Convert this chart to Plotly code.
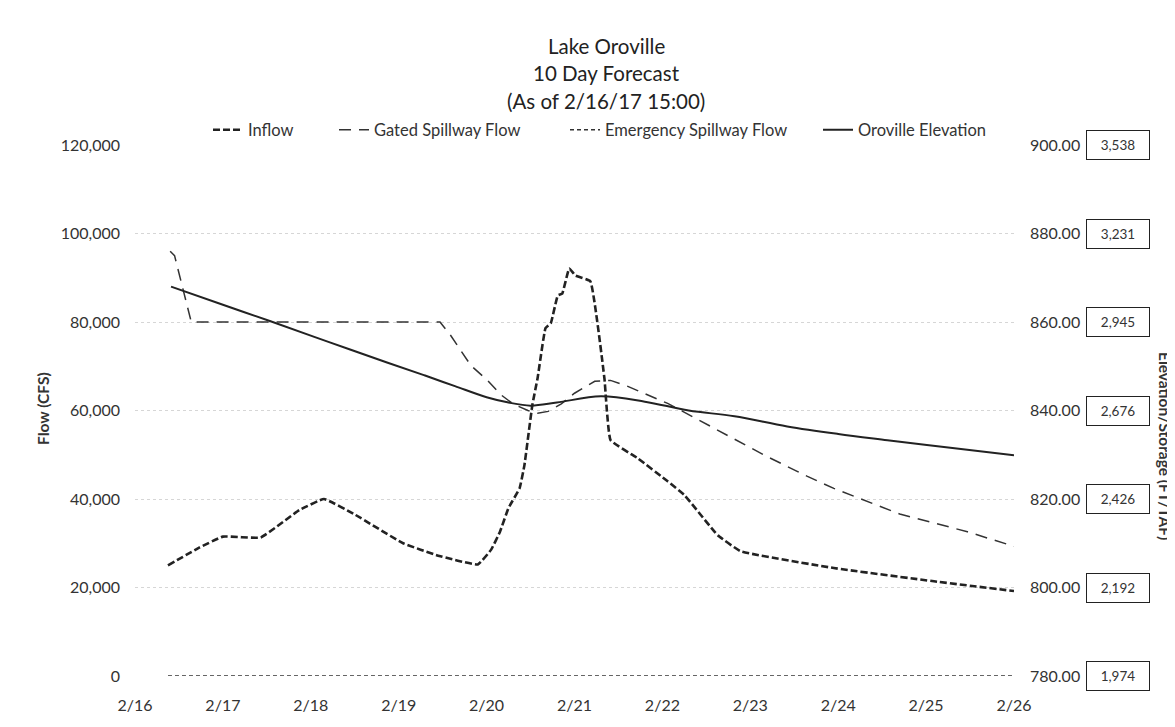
import plotly.graph_objects as go

# ---------------- data (x = days after 2/16 00:00) ----------------
x_labels = ["2/16", "2/17", "2/18", "2/19", "2/20", "2/21", "2/22", "2/23", "2/24", "2/25", "2/26"]

inflow_days = [0.375, 0.73, 1.0, 1.43, 1.87, 2.15, 2.5, 3.05, 3.45, 3.9, 4.05, 4.15, 4.25,
               4.375, 4.43, 4.52, 4.58, 4.67, 4.73, 4.81, 4.86, 4.94, 5.01, 5.18, 5.34,
               5.41, 5.72, 6.06, 6.25, 6.63, 6.89, 7.95, 9.09, 10.0]
inflow_cfs = [25000, 29000, 31500, 31300, 37500, 40000, 36500, 30000, 27200, 25200, 28500,
              32500, 38000, 42400, 47600, 61200, 67300, 78600, 79700, 86000, 86400, 92100,
              90500, 89200, 67300, 53300, 49200, 44000, 40900, 31800, 28200, 24400, 21400, 19200]

gated_days = [0.4, 0.45, 0.64, 1.5, 2.5, 3.47, 3.59, 3.82, 4.01, 4.16, 4.3, 4.47, 4.58, 4.7,
              4.85, 5.0, 5.23, 5.41, 5.6, 6.06, 6.55, 7.16, 7.65, 7.95, 8.7, 9.47, 10.0]
gated_cfs = [96000, 95000, 80000, 80000, 80000, 80000, 77000, 70200, 66800, 63600, 61500,
             60000, 59400, 59800, 61500, 63900, 66600, 66800, 65500, 61600, 56400, 49900,
             45100, 42400, 36600, 32600, 29300]

emergency_days = [0.375, 2.0, 4.0, 6.0, 8.0, 10.0]
emergency_cfs = [0, 0, 0, 0, 0, 0]

elev_days = [0.41, 1.0, 1.55, 2.2, 2.875, 3.3, 3.64, 4.0, 4.25, 4.5, 4.8, 5.3, 5.8, 6.3,
             6.82, 7.42, 8.0, 8.56, 9.3, 10.0]
elev_ft = [868.0, 863.9, 860.1, 855.5, 850.8, 847.9, 845.5, 843.0, 841.8, 841.1, 841.8,
           843.2, 842.0, 840.0, 838.7, 836.4, 834.7, 833.3, 831.5, 829.9]

flow_ticks = [0, 20000, 40000, 60000, 80000, 100000, 120000]
elev_ticks = [780, 800, 820, 840, 860, 880, 900]
storage_taf = ["1,974", "2,192", "2,426", "2,676", "2,945", "3,231", "3,538"]

# ---------------- layout geometry ----------------
W, H = 1175, 727
L, R, T, B = 127, 169, 137, 59
PW, PH = W - L - R, H - T - B


def px_x(p):
    return (p - L) / PW


def px_y(p):
    return (H - B - p) / PH


FONT = "Lato"
INK = "#222222"
TXT = "#333333"

fig = go.Figure()

fig.add_trace(go.Scatter(
    x=inflow_days, y=inflow_cfs, name="Inflow", mode="lines",
    line=dict(color=INK, width=2.6, dash="7px,3px", shape="spline", smoothing=0.3),
    legend="legend"))
fig.add_trace(go.Scatter(
    x=gated_days, y=gated_cfs, name="Gated Spillway Flow", mode="lines",
    line=dict(color="#333333", width=1.5, dash="12px,8px"),
    legend="legend2"))
fig.add_trace(go.Scatter(
    x=emergency_days, y=emergency_cfs, name="Emergency Spillway Flow", mode="lines",
    line=dict(color="#333333", width=1.6, dash="4px,3px"),
    legend="legend3"))
fig.add_trace(go.Scatter(
    x=elev_days, y=elev_ft, name="Oroville Elevation", mode="lines", yaxis="y2",
    line=dict(color=INK, width=2.0, shape="spline", smoothing=1.0),
    legend="legend4"))

annotations = []
# title lines
for txt, py in [("Lake Oroville", 38), ("10 Day Forecast", 65), ("(As of 2/16/17 15:00)", 93)]:
    annotations.append(dict(text=txt, x=px_x(598), y=px_y(py), xref="paper", yref="paper",
                            xanchor="center", yanchor="middle", showarrow=False,
                            font=dict(family=FONT, size=20.5, color=INK)))
# axis titles
annotations.append(dict(text="<b>Flow (CFS)</b>", x=px_x(35), y=px_y(401), xref="paper",
                        yref="paper", textangle=-90, showarrow=False,
                        xanchor="center", yanchor="middle",
                        font=dict(family=FONT, size=15.5, color=TXT)))
annotations.append(dict(text="<b>Elevation/Storage (FT/TAF)</b>", x=px_x(1157), y=px_y(438),
                        xref="paper", yref="paper", textangle=90, showarrow=False,
                        xanchor="center", yanchor="middle", borderpad=0,
                        font=dict(family=FONT, size=15.5, color=TXT)))
# storage boxes
for v, s in zip(elev_ticks, storage_taf):
    annotations.append(dict(text=s, x=px_x(1110), y=v, xref="paper", yref="y2",
                            xanchor="center", yanchor="middle", showarrow=False,
                            width=58, height=24, borderpad=2, bordercolor=INK,
                            borderwidth=1, bgcolor="white",
                            font=dict(family=FONT, size=13.5, color=TXT)))

leg_y = px_y(122)
leg_common = dict(orientation="h", yanchor="middle", y=leg_y, xanchor="left",
                  bgcolor="rgba(0,0,0,0)", borderwidth=0,
                  font=dict(family=FONT, size=16.5, color=TXT))

fig.update_layout(
    width=W, height=H,
    margin=dict(l=L, r=R, t=T, b=B, pad=0),
    paper_bgcolor="white", plot_bgcolor="white",
    font=dict(family=FONT, size=16, color=TXT),
    showlegend=True,
    legend=dict(x=px_x(200), **leg_common),
    legend2=dict(x=px_x(326), **leg_common),
    legend3=dict(x=px_x(557), **leg_common),
    legend4=dict(x=px_x(810), **leg_common),
    xaxis=dict(range=[0, 10], tickmode="array", tickvals=list(range(11)), ticktext=x_labels,
               showgrid=False, zeroline=False, showline=False, ticks="",
               ticklabelstandoff=18, tickfont=dict(family=FONT, size=16, color=TXT)),
    yaxis=dict(range=[0, 120000], tickmode="array", tickvals=flow_ticks, tickformat=",",
               showgrid=True, gridcolor="#d6d6d6", griddash="dot", gridwidth=1,
               zeroline=False, showline=False, ticks="", ticklabelstandoff=14,
               tickfont=dict(family=FONT, size=16, color=TXT)),
    yaxis2=dict(range=[780, 900], overlaying="y", side="right", tickmode="array",
                tickvals=elev_ticks, tickformat=".2f", showgrid=False, zeroline=False,
                showline=False, ticks="", ticklabelstandoff=15,
                tickfont=dict(family=FONT, size=16, color=TXT)),
    annotations=annotations,
)

fig.write_html("out.html")
